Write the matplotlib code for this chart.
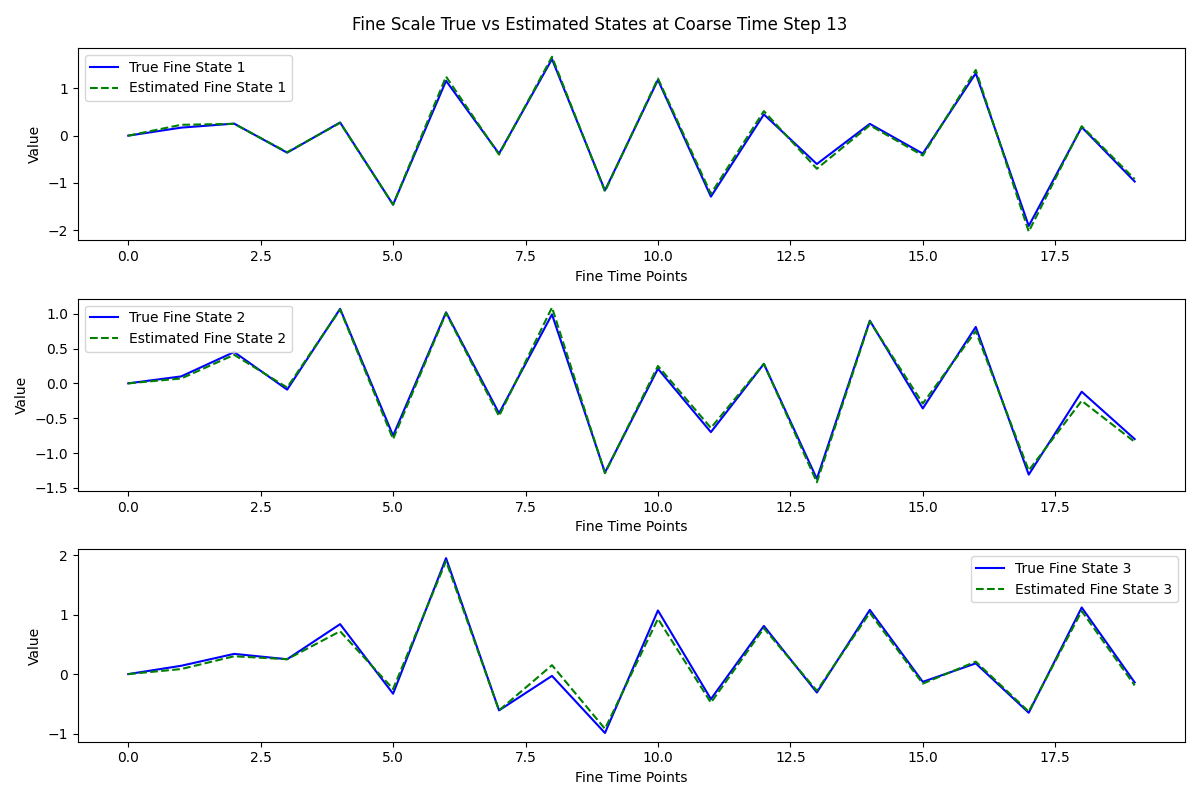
import numpy as np
import matplotlib
matplotlib.use("Agg")
import matplotlib.pyplot as plt

fine_time = list(range(20))

# true and estimated fine states
true_state_1 = [0.0, 0.17, 0.255, -0.36, 0.28, -1.46, 1.16, -0.38, 1.62, -1.16,
                1.18, -1.29, 0.45, -0.60, 0.25, -0.38, 1.32, -1.91, 0.18, -0.97]
est_state_1 = [0.0, 0.23, 0.25, -0.35, 0.27, -1.46, 1.25, -0.40, 1.67, -1.18,
               1.21, -1.23, 0.52, -0.70, 0.22, -0.42, 1.39, -2.03, 0.20, -0.92]

true_state_2 = [0.0, 0.10, 0.45, -0.09, 1.07, -0.75, 1.02, -0.43, 0.99, -1.28,
                0.21, -0.70, 0.28, -1.37, 0.90, -0.36, 0.81, -1.31, -0.12, -0.80]
est_state_2 = [0.0, 0.07, 0.41, -0.06, 1.06, -0.80, 1.01, -0.47, 1.09, -1.29,
               0.25, -0.64, 0.28, -1.42, 0.89, -0.29, 0.75, -1.25, -0.25, -0.84]

true_state_3 = [0.0, 0.14, 0.34, 0.25, 0.84, -0.33, 1.95, -0.61, -0.03, -0.99,
                1.07, -0.42, 0.81, -0.31, 1.08, -0.13, 0.18, -0.65, 1.12, -0.14]
est_state_3 = [0.0, 0.085, 0.30, 0.25, 0.72, -0.25, 1.90, -0.61, 0.15, -0.92,
               0.93, -0.48, 0.77, -0.28, 1.03, -0.16, 0.21, -0.63, 1.06, -0.19]

true_states = [true_state_1, true_state_2, true_state_3]
est_states = [est_state_1, est_state_2, est_state_3]
legend_locs = ['upper left', 'upper left', 'upper right']

fig, axes = plt.subplots(3, 1, figsize=(12, 8))
for i, ax in enumerate(axes):
    ax.plot(fine_time, true_states[i], 'b-', label=f"True Fine State {i+1}")
    ax.plot(fine_time, est_states[i], 'g--', label=f"Estimated Fine State {i+1}")
    ax.set_xlabel("Fine Time Points")
    ax.set_ylabel("Value")
    ax.legend(loc=legend_locs[i])

fig.suptitle("Fine Scale True vs Estimated States at Coarse Time Step 13")
plt.tight_layout()
plt.savefig("out.png", dpi=100)
